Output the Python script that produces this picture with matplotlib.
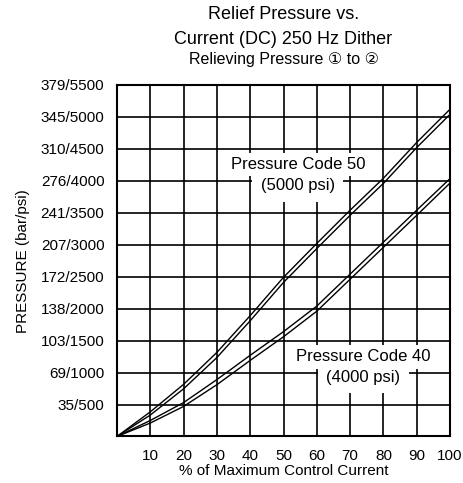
import matplotlib
matplotlib.use("Agg")
import matplotlib.pyplot as plt

# % of maximum control current
current = [0, 10, 20, 30, 40, 50, 60, 70, 80, 90, 100]

# Pressure Code 50 band (two edges of the hysteresis band), psi
pc50_upper = [0, 385, 815, 1315, 1890, 2490, 3020, 3540, 4040, 4600, 5120]
pc50_lower = [0, 335, 745, 1235, 1810, 2410, 2940, 3460, 3960, 4520, 5040]

# Pressure Code 40 band, psi
pc40_upper = [0, 250, 530, 890, 1270, 1640, 2040, 2540, 3040, 3540, 4035]
pc40_lower = [0, 210, 470, 810, 1190, 1560, 1960, 2460, 2960, 3460, 3965]

x_ticks = [10, 20, 30, 40, 50, 60, 70, 80, 90, 100]
y_ticks = [500, 1000, 1500, 2000, 2500, 3000, 3500, 4000, 4500, 5000, 5500]
y_tick_labels = ["35/500", "69/1000", "103/1500", "138/2000", "172/2500",
                 "207/3000", "241/3500", "276/4000", "310/4500", "345/5000",
                 "379/5500"]

plt.rcParams["font.family"] = ["Liberation Sans", "DejaVu Sans", "Noto Sans CJK JP"]


def main():
    fig = plt.figure(figsize=(4.64, 4.83), dpi=100)
    ax = fig.add_axes([0.252, 0.0963, 0.718, 0.728])

    ax.set_xlim(0, 100)
    ax.set_ylim(0, 5500)

    # grid
    for v in range(10, 100, 10):
        ax.axvline(v, color="black", lw=1.2, zorder=1)
    for p in y_ticks[:-1]:
        ax.axhline(p, color="black", lw=1.2, zorder=1)

    # curves
    for ys in (pc50_upper, pc50_lower, pc40_upper, pc40_lower):
        ax.plot(current, ys, color="black", lw=1.0, zorder=3)

    box = dict(facecolor="white", edgecolor="none", pad=3)
    ax.text(54.5, 4250, "Pressure Code 50", ha="center", va="center",
            fontsize=12, bbox=box, zorder=4)
    ax.text(54.3, 3920, "(5000 psi)", ha="center", va="center",
            fontsize=12, bbox=dict(facecolor="white", edgecolor="none", pad=6), zorder=4)
    ax.text(74, 1245, "Pressure Code 40", ha="center", va="center",
            fontsize=12, bbox=box, zorder=4)
    ax.text(74, 930, "(4000 psi)", ha="center", va="center",
            fontsize=12, bbox=dict(facecolor="white", edgecolor="none", pad=6), zorder=4)

    ax.set_xticks(x_ticks)
    ax.set_xticklabels([str(v) for v in x_ticks], fontsize=11)
    ax.set_yticks(y_ticks)
    ax.set_yticklabels(y_tick_labels, fontsize=11)
    ax.tick_params(length=0, pad=9)

    for s in ax.spines.values():
        s.set_linewidth(1.5)

    ax.set_xlabel("% of Maximum Control Current", fontsize=11, labelpad=1)
    ax.set_ylabel("PRESSURE (bar/psi)", fontsize=11, labelpad=8)

    fig.text(0.611, 0.969, "Relief Pressure vs.", ha="center", va="center", fontsize=13)
    fig.text(0.611, 0.919, "Current (DC) 250 Hz Dither", ha="center", va="center", fontsize=13)
    fig.text(0.611, 0.876, "Relieving Pressure \u2460 to \u2461", ha="center", va="center", fontsize=11.5)

    fig.savefig("out.png", dpi=100)


if __name__ == "__main__":
    main()
